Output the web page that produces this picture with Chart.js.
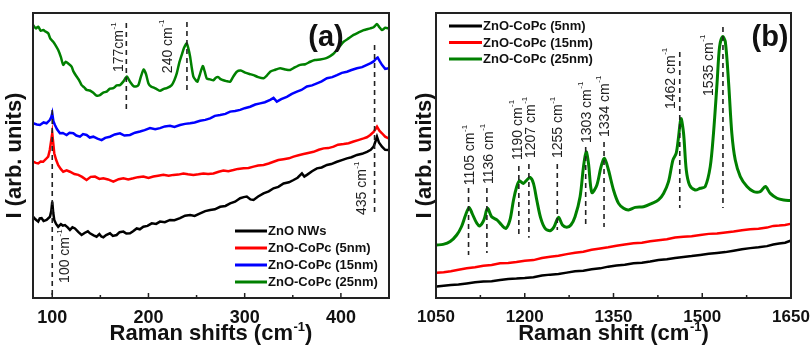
<!DOCTYPE html>
<html>
<head>
<meta charset="utf-8">
<script src="https://cdn.jsdelivr.net/npm/chart.js@4"></script>
<style>
  html, body { margin: 0; padding: 0; background: #fff; }
  #wrap { position: relative; width: 811px; height: 346px; }
  #chartA { position: absolute; left: 0; top: 0; }
  #chartB { position: absolute; left: 410px; top: 0; }
</style>
</head>
<body>
<div id="wrap">
  <canvas id="chartA" width="410" height="346"></canvas>
  <canvas id="chartB" width="401" height="346"></canvas>
</div>
<script>
/* global Chart */

// ---- panel (a) data: Raman shift (cm-1), intensity (arb.) ----
const labelsA = ['ZnO NWs', 'ZnO-CoPc (5nm)', 'ZnO-CoPc (15nm)', 'ZnO-CoPc (25nm)']
const ticksA = [100, 200, 300, 400]
const minorA = [150, 250, 350]
const peaksA = [100, 177, 240, 435]
const peakTextA = ['100 cm', '177cm', '240 cm', '435 cm']

const znoNWsA = [[80.2,28.5],[82.5,27.6],[85.4,26.8],[87,27.9],[88.9,28.0],[91,27.0],[94.1,27.4],[97.6,28.5],[99,30.5],[100,33.8],[101,30.0],[102.1,27.4],[104,26.0],[106.2,25.0],[109,25.9],[111,25.4],[113.2,25.6],[116,24.8],[118.4,23.9],[121,24.8],[123.6,24.4],[127,23.2],[130.5,22.1],[134,22.9],[137,23.4],[139.2,22.7],[143,22.0],[146.1,21.5],[149,22.4],[151,21.6],[153.1,21.3],[156,22.1],[160,22.7],[163,21.8],[166.9,22.1],[170,23.1],[173.9,23.3],[177,22.6],[180.8,22.7],[184,23.4],[187.8,24.4],[191,24.1],[194.7,25.0],[199,25.3],[203.4,26.2],[208,26.0],[212,26.8],[217,26.6],[222.4,27.4],[227,27.3],[232.8,28.0],[238,28.9],[243.3,29.1],[248,28.8],[253.7,29.7],[259,30.5],[264.1,30.9],[269,31.1],[274.5,32.0],[280,32.3],[284.9,33.2],[290,33.8],[295.3,35.0],[299,35.4],[302.2,35.6],[306,34.6],[309.2,34.4],[314,35.6],[319.6,36.7],[325,37.4],[330,38.5],[335,39.0],[340.4,40.2],[346,40.6],[350.8,41.4],[355,42.2],[359.5,43.7],[362,42.6],[364.7,43.2],[370,44.5],[375.1,45.5],[380,45.8],[385.5,46.7],[390,47.0],[395.9,47.8],[401,48.4],[406.3,49.0],[411,49.4],[416.7,50.2],[422,50.6],[427.1,51.3],[431,52.0],[434,53.1],[436,55.0],[437.5,56.6],[439.5,54.6],[442.7,53.1],[446,52.0],[449.6,51.9]]

const coPc5A = [[80.2,47.8],[83,47.4],[85.4,47.2],[88,47.9],[90.6,47.8],[93,48.6],[95.8,49.6],[97.5,52.0],[98.8,55.0],[100,57.8],[101,54.5],[102.1,50.8],[104,48.5],[106.2,46.6],[109,45.2],[111.4,44.3],[115,44.8],[118.4,44.3],[123,43.5],[127.1,43.2],[131,42.5],[135.7,41.4],[140,42.5],[144.4,42.6],[149,41.8],[153.1,42.0],[158,41.6],[163.5,40.8],[169,41.7],[173.9,42.0],[179,41.6],[184.3,42.0],[189,42.4],[194.7,42.6],[200,42.1],[205.1,42.6],[210,42.9],[215.5,43.2],[221,42.9],[225.9,43.2],[231,43.3],[236.3,43.7],[241,43.4],[246.7,43.2],[252,43.4],[257.1,43.7],[262,43.5],[267.5,43.7],[273,44.3],[277.9,44.7],[283,44.5],[288.3,44.9],[293,45.3],[298.8,45.5],[304,45.6],[309.2,46.1],[314,46.5],[319.6,46.7],[325,47.2],[330,47.8],[335,48.4],[340.4,48.7],[346,49.0],[350.8,49.6],[356,50.1],[361.2,50.5],[366,50.9],[371.6,51.3],[377,52.0],[382,52.5],[387,52.6],[392.4,53.1],[397,53.8],[402.8,54.0],[408,54.3],[413.2,54.9],[418,55.4],[423.6,56.0],[427,56.4],[430.5,57.2],[434,58.3],[437.5,60.1],[440,58.7],[442.7,57.8],[446,56.6],[449.6,56.0]]

const coPc15A = [[80.2,61.3],[84,60.9],[87.2,60.7],[91,61.6],[94.1,61.3],[97.6,62.5],[99,63.5],[100,64.8],[101.2,62.0],[102.8,60.7],[105,59.2],[108,57.8],[111,57.9],[114.9,57.2],[118,58.0],[121.9,57.8],[125,57.0],[128.8,56.6],[132,57.5],[135.7,57.2],[139,56.3],[142.7,56.6],[147,55.9],[151.3,55.4],[155,56.2],[160,56.6],[165,57.4],[170.4,57.8],[175,57.0],[180.8,57.2],[186,58.0],[191.2,58.4],[196,58.9],[201.6,59.6],[207,59.2],[212,59.6],[217,60.2],[222.4,60.4],[227,60.0],[232.8,60.7],[238,61.1],[243.3,61.3],[248,61.6],[253.7,62.2],[259,62.5],[264.1,63.0],[269,63.9],[274.5,64.2],[280,64.6],[284.9,65.4],[290,65.6],[295.3,66.0],[300,66.6],[305.7,67.1],[311,67.9],[316.1,68.3],[321,68.7],[326.5,69.5],[330,70.2],[333.4,68.9],[338,69.8],[343.8,70.6],[349,71.6],[354.3,72.4],[359,73.0],[364.7,74.2],[370,74.6],[375.1,75.3],[380,76.0],[385.5,77.1],[391,77.5],[395.9,78.2],[401,79.0],[406.3,79.4],[411,80.0],[416.7,80.6],[422,81.0],[427.1,81.8],[431,82.4],[434,83.0],[436.5,84.0],[438.2,84.4],[440.5,83.0],[442.7,81.8],[446,80.4],[449.6,80.6]]

const coPc25A = [[80,95.8],[83,94.6],[85.4,95.2],[88,93.8],[90.6,94.0],[93,93.5],[95.8,92.9],[98,91.0],[101,89.9],[103,88.9],[106.2,87.0],[109,84.5],[111.4,81.8],[114,82.9],[116.6,82.3],[120.1,81.2],[122,79.5],[125.3,77.7],[128,76.4],[130.5,74.7],[133,74.0],[135.7,73.0],[139,72.8],[142.7,72.0],[146,71.0],[149.6,71.2],[153,72.1],[156.5,72.4],[160,73.5],[163.5,73.6],[167,74.6],[170.4,74.7],[174,76.0],[177.5,77.7],[181,75.8],[184.3,74.4],[187,74.2],[189.5,74.7],[192,77.5],[195,80.2],[197.5,78.5],[200,75.3],[203,74.1],[205.1,73.9],[209,73.2],[212,72.7],[216,73.4],[219,73.6],[224.2,74.7],[227,76.5],[229.4,78.8],[232,82.5],[234.6,85.3],[237,87.8],[239.8,89.4],[241.5,87.5],[243.3,84.7],[245,80.8],[246.7,77.7],[249,76.5],[250.9,75.9],[253.5,78.5],[256.4,81.4],[258.5,79.4],[260.6,77.0],[264,76.7],[267.5,76.4],[270,77.3],[272.7,77.5],[275,76.8],[277.9,76.4],[281,76.1],[284.9,75.9],[288,77.6],[291.8,79.4],[296,79.8],[300.5,79.1],[305,78.6],[309.2,78.2],[314,77.5],[319.6,77.1],[323,78.0],[326.5,79.4],[331,80.0],[336.9,80.6],[342,80.2],[347.3,80.0],[352,80.9],[357.7,81.8],[363,82.0],[368.1,82.9],[373,83.5],[378.5,83.7],[384,84.1],[388.9,84.9],[392,85.6],[395.9,87.0],[399,88.4],[402.8,89.9],[408,91.1],[413.2,92.3],[418,93.1],[423.6,94.0],[427,94.3],[430.5,94.6],[434,95.0],[437.5,96.1],[440,95.0],[442.7,94.0],[446,94.8],[449.6,94.6]]

// ---- panel (b) data ----
const labelsB = ['ZnO-CoPc (5nm)', 'ZnO-CoPc (15nm)', 'ZnO-CoPc (25nm)']
const ticksB = [1050, 1200, 1350, 1500, 1650]
const minorB = [1125, 1275, 1425, 1575]
const peaksB = [1105, 1136, 1190, 1207, 1255, 1303, 1334, 1462, 1535]

const coPc5B = [[1051,4.0],[1063,4.3],[1075,4.6],[1088,4.7],[1101.9,5.1],[1116,5.5],[1130,5.8],[1144,5.9],[1158.3,6.3],[1172,6.7],[1186,6.8],[1200,7.0],[1214.7,7.3],[1229,7.9],[1243,8.2],[1257,8.4],[1271.1,8.9],[1285,9.4],[1299,9.6],[1313,10.1],[1327.5,10.4],[1341,11.0],[1355,11.4],[1369,11.7],[1383.8,12.2],[1398,12.4],[1412,12.8],[1426,13.3],[1440.2,13.6],[1454,14.0],[1468,14.4],[1482,14.7],[1496.6,15.1],[1511,15.5],[1525,15.8],[1539,16.1],[1553,16.6],[1567,17.1],[1581,17.5],[1595,17.8],[1609.4,18.2],[1620,18.8],[1630,19.1],[1640,19.4],[1649,20.1]]

const coPc15B = [[1051,8.9],[1063,9.0],[1075,9.4],[1088,9.9],[1101.9,10.4],[1116,10.8],[1130,11.3],[1144,11.6],[1158.3,12.2],[1172,12.3],[1186,12.6],[1200,13.1],[1214.7,13.3],[1229,14.0],[1243,14.5],[1257,14.8],[1271.1,15.4],[1285,15.9],[1299,16.2],[1313,16.9],[1327.5,17.4],[1341,17.8],[1355,18.3],[1369,18.8],[1383.8,19.2],[1398,19.4],[1412,19.9],[1426,20.3],[1440.2,20.6],[1454,21.2],[1468,21.5],[1482,21.7],[1496.6,22.1],[1511,22.5],[1525,22.6],[1539,23.0],[1553,23.3],[1567,23.8],[1581,24.1],[1595,24.3],[1609.4,24.7],[1620,25.3],[1630,25.4],[1640,25.6],[1649,26.0]]

const coPc25B = [[1051,18.6],[1062,18.8],[1074,19.8],[1085,22.1],[1093,25.0],[1100,29.1],[1106,31.8],[1111,29.7],[1119,26.2],[1124,25.3],[1131,27.4],[1137,31.5],[1144,28.5],[1153,27.4],[1161,25.6],[1168,24.4],[1175,27.4],[1181,34.4],[1186.5,39.1],[1191,41.1],[1197.7,40.2],[1203.4,41.4],[1209,42.3],[1214.7,40.2],[1220.3,34.4],[1227,28.0],[1234.4,24.4],[1243,23.6],[1249.6,25.0],[1257,28.3],[1263.7,25.6],[1271,24.8],[1278,25.6],[1285,28.5],[1293.6,35.6],[1299.3,46.1],[1303.8,51.3],[1307.7,47.3],[1313.4,37.0],[1321.8,39.6],[1329,46.1],[1334.8,49.0],[1341.5,44.9],[1350,37.9],[1358.5,33.2],[1367,31.5],[1375.4,30.9],[1386.7,31.8],[1400.8,32.0],[1415,33.2],[1426,34.4],[1434.6,36.7],[1443,40.8],[1450.4,48.4],[1456,50.8],[1460,56.6],[1464,63.0],[1468.4,57.8],[1473,44.9],[1478.6,39.6],[1488,37.9],[1496.6,38.5],[1505,39.1],[1513.5,46.1],[1519,57.8],[1525,75.3],[1529.3,88.2],[1534.4,91.7],[1539,89.9],[1544.6,75.3],[1550,57.8],[1555.8,48.4],[1564.3,42.6],[1575.6,39.1],[1587,37.3],[1598,37.3],[1606.7,39.1],[1615,36.7],[1626.4,35.0],[1637.7,34.4],[1649,34.2]]

// ---- styling / annotation layout ----
const FONT = '"Liberation Sans", Arial, Helvetica, sans-serif'
const GREEN = 'rgb(0,128,0)'

// y1/y2: dashed line ends, ty: text start (data units); dx: text offset in px
const marksA = [
  { y1: 66, y2: 0.7, dx: 13, ty: 5.3 },
  { y1: 96.5, y2: 66, dx: -7, ty: 79.3 },
  { y1: 96.8, y2: 72.6, dx: -19, ty: 78.9 },
  { y1: 88.8, y2: 29.8, dx: -12, ty: 29.1 }
]
const marksB = [
  { y1: 38.6, y2: 15.1, dx: 2, ty: 39.6 },
  { y1: 38.6, y2: 15.8, dx: 2, ty: 40.0 },
  { y1: 46.3, y2: 21.4, dx: -1, ty: 48.4 },
  { y1: 47.0, y2: 21.1, dx: 2, ty: 49.1 },
  { y1: 47.0, y2: 23.9, dx: 1, ty: 49.1 },
  { y1: 53.0, y2: 25.6, dx: 1, ty: 54.4 },
  { y1: 54.7, y2: 24.9, dx: 1, ty: 56.5 },
  { y1: 86.3, y2: 31.6, dx: -9, ty: 66.3 },
  { y1: 95.1, y2: 31.6, dx: -14, ty: 70.9 }
]

function toXY (pairs) {
  return pairs.map(p => ({ x: p[0], y: p[1] }))
}

function supText (ctx, main, sup, x, y, size, weight) {
  ctx.font = weight + ' ' + size + 'px ' + FONT
  ctx.fillText(main, x, y)
  const w = ctx.measureText(main).width
  ctx.font = weight + ' ' + Math.round(size * 0.6) + 'px ' + FONT
  ctx.fillText(sup, x + w + 0.5, y - size * 0.42)
  return w + ctx.measureText(sup).width
}

function supWidth (ctx, main, sup, size, weight) {
  ctx.font = weight + ' ' + size + 'px ' + FONT
  const w = ctx.measureText(main).width
  ctx.font = weight + ' ' + Math.round(size * 0.6) + 'px ' + FONT
  return w + ctx.measureText(sup).width + 0.5
}

const decor = {
  id: 'decor',
  afterDatasetsDraw (chart, args, opts) {
    const { ctx, chartArea: a, scales: { x, y } } = chart
    ctx.save()
    // dashed peak markers and rotated labels
    opts.peaks.forEach((p, i) => {
      const m = opts.marks[i]
      const px = x.getPixelForValue(p)
      ctx.strokeStyle = '#222'
      ctx.lineWidth = 1.6
      ctx.setLineDash([5, 4])
      ctx.beginPath()
      ctx.moveTo(px, y.getPixelForValue(m.y1))
      ctx.lineTo(px, y.getPixelForValue(m.y2))
      ctx.stroke()
      ctx.setLineDash([])
      ctx.save()
      ctx.translate(px + m.dx, y.getPixelForValue(m.ty))
      ctx.rotate(-Math.PI / 2)
      ctx.fillStyle = '#222'
      ctx.textBaseline = 'middle'
      ctx.textAlign = 'left'
      supText(ctx, opts.peakText[i], '-1', 0, 0, 14, 'normal')
      ctx.restore()
    })

    // legend
    ctx.textBaseline = 'middle'
    ctx.textAlign = 'left'
    chart.data.datasets.forEach((ds, i) => {
      const ly = opts.legend.y0 + i * opts.legend.dy
      ctx.strokeStyle = ds.borderColor
      ctx.lineWidth = 3
      ctx.beginPath()
      ctx.moveTo(opts.legend.x0, ly)
      ctx.lineTo(opts.legend.x1, ly)
      ctx.stroke()
      ctx.fillStyle = '#111'
      ctx.font = 'bold 13px ' + FONT
      ctx.fillText(ds.label, opts.legend.x1 + 1, ly + 0.5)
    })

    // panel tag
    ctx.fillStyle = '#111'
    ctx.textAlign = 'center'
    ctx.font = 'bold 29px ' + FONT
    ctx.fillText(opts.tag, opts.tagX, 38)

    // frame
    ctx.strokeStyle = '#222'
    ctx.lineWidth = 2
    ctx.strokeRect(a.left, a.top, a.right - a.left, a.bottom - a.top)

    // inward ticks on bottom axis
    ctx.lineWidth = 1.5
    opts.major.forEach(v => {
      const px = x.getPixelForValue(v)
      ctx.beginPath(); ctx.moveTo(px, a.bottom); ctx.lineTo(px, a.bottom - 5); ctx.stroke()
    })
    opts.minor.forEach(v => {
      const px = x.getPixelForValue(v)
      ctx.beginPath(); ctx.moveTo(px, a.bottom); ctx.lineTo(px, a.bottom - 3); ctx.stroke()
    })

    // x axis title with superscript
    ctx.fillStyle = '#111'
    ctx.textAlign = 'left'
    ctx.textBaseline = 'alphabetic'
    const size = 22
    const wMain = supWidth(ctx, opts.xTitle, '-1', size, 'bold')
    ctx.font = 'bold ' + size + 'px ' + FONT
    const wEnd = ctx.measureText(')').width
    const x0 = (a.left + a.right) / 2 - (wMain + wEnd) / 2
    const used = supText(ctx, opts.xTitle, '-1', x0, 340, size, 'bold')
    ctx.font = 'bold ' + size + 'px ' + FONT
    ctx.fillText(')', x0 + used + 0.5, 340)
    ctx.restore()
  }
}

function makePanel (canvasId, series, names, colors, widths, o) {
  return new Chart(document.getElementById(canvasId), {
    type: 'line',
    data: {
      datasets: series.map((s, i) => ({
        label: names[i],
        data: toXY(s),
        borderColor: colors[i],
        borderWidth: widths[i],
        pointRadius: 0,
        tension: o.tension[i],
        fill: false
      }))
    },
    options: {
      responsive: false,
      animation: false,
      devicePixelRatio: 1,
      layout: { padding: { top: 13, right: o.padRight, left: 0, bottom: 0 } },
      plugins: {
        legend: { display: false },
        tooltip: { enabled: false },
        decor: o.decor
      },
      scales: {
        x: {
          type: 'linear',
          min: o.xMin,
          max: o.xMax,
          grid: { display: false },
          border: { display: false },
          afterBuildTicks: scale => { scale.ticks = o.ticks.map(v => ({ value: v })) },
          afterFit: scale => { scale.height = 48 },
          ticks: {
            color: '#111',
            padding: 1,
            maxRotation: 0,
            callback: v => String(v),
            font: { family: FONT, size: o.tickSize, weight: 'bold' }
          }
        },
        y: {
          min: 0,
          max: 100,
          grid: { display: false },
          border: { display: false },
          ticks: { display: false },
          afterFit: scale => { scale.width = o.yWidth },
          title: {
            display: true,
            text: 'I (arb. units)',
            color: '#111',
            padding: { top: 2, bottom: 0 },
            font: { family: FONT, size: 22, weight: 'bold' }
          }
        }
      }
    },
    plugins: [decor]
  })
}

makePanel('chartA', [znoNWsA, coPc5A, coPc15A, coPc25A], labelsA,
  ['#000000', '#ff0000', '#0000ff', GREEN], [2.5, 2.5, 2.5, 2.5], {
    tension: [0, 0, 0, 0.2],
    padRight: 21,
    yWidth: 33,
    xMin: 80,
    xMax: 450,
    tickSize: 18,
    ticks: ticksA,
    decor: {
      peaks: peaksA,
      peakText: peakTextA,
      marks: marksA,
      legend: { x0: 235, x1: 267, y0: 231, dy: 17 },
      tag: '(a)',
      tagX: 326,
      major: ticksA,
      minor: minorA,
      xTitle: 'Raman shifts (cm'
    }
  })

makePanel('chartB', [coPc5B, coPc15B, coPc25B], labelsB,
  ['#000000', '#ff0000', GREEN], [2.5, 2.5, 3], {
    tension: [0, 0, 0.3],
    padRight: 20,
    yWidth: 26,
    xMin: 1050,
    xMax: 1650,
    tickSize: 17,
    ticks: ticksB,
    decor: {
      peaks: peaksB,
      peakText: peaksB.map(v => v + ' cm'),
      marks: marksB,
      legend: { x0: 39, x1: 72, y0: 26, dy: 16.5 },
      tag: '(b)',
      tagX: 360,
      major: ticksB,
      minor: minorB,
      xTitle: 'Raman shift (cm'
    }
  })
</script>
</body>
</html>
